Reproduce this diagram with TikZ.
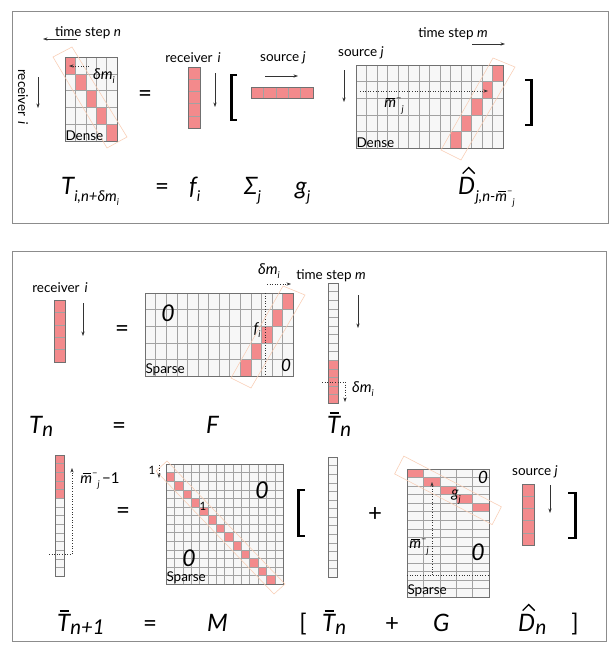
\documentclass[tikz,border=0pt]{standalone}
\usepackage{fontspec}
\setmainfont{Lato}
\usepackage{graphicx}
\usetikzlibrary{arrows.meta}
\definecolor{pinkc}{HTML}{F38A8C}
\definecolor{gridbg}{HTML}{F7F7F7}
\definecolor{gridln}{HTML}{A2A2A2}
\definecolor{matfr}{HTML}{707070}
\definecolor{bandc}{HTML}{F9CDB4}
\definecolor{framec}{HTML}{8C8C8C}
\definecolor{arrc}{HTML}{333333}
\newcommand\sub[1]{\raisebox{-0.3em}{\scalebox{0.62}{#1}}}
\newcommand\subb[1]{\raisebox{-0.15em}{\scalebox{0.85}{#1}}}
\newcommand\supr[1]{\raisebox{0.45em}{\scalebox{0.62}{#1}}}
\newcommand\ovbar[1]{\leavevmode\setbox0=\hbox{#1}\rlap{\kern0.18\wd0\raisebox{\dimexpr\ht0+0.09em\relax}{\rule{0.72\wd0}{0.06em}}}\box0}
\newcommand\pk[2]{\fill[pinkc] ({#1},{#2}) rectangle ++(1,1);}
\newcommand\gmat[7]{%
 \begin{scope}[shift={(#1,#2)},x=#3pt,y=-#4pt]
  \fill[gridbg] (0,0) rectangle (#5,#6);
  #7
  \pgfmathtruncatemacro\nca{#5-1}
  \pgfmathtruncatemacro\nra{#6-1}
  \ifnum\nca>0 \foreach \i in {1,...,\nca} {\draw[gl] (\i,0) -- (\i,#6);}\fi
  \ifnum\nra>0 \foreach \i in {1,...,\nra} {\draw[gl] (0,\i) -- (#5,\i);}\fi
  \draw[mf] (0,0) rectangle (#5,#6);
 \end{scope}}
\tikzset{
  lbl/.style={font=\fontsize{13.5}{15}\selectfont, inner sep=0pt},
  mlbl/.style={font=\fontsize{15}{17}\selectfont\itshape, inner sep=0pt},
  fml/.style={font=\fontsize{24}{28}\selectfont\itshape, inner sep=0pt, anchor=base west},
  fmlu/.style={font=\fontsize{24}{28}\selectfont, inner sep=0pt, anchor=base},
  bigzero/.style={font=\fontsize{23}{24}\selectfont\itshape, inner sep=0pt},
  smallzero/.style={font=\fontsize{17}{18}\selectfont\itshape, inner sep=0pt},
  mtag/.style={font=\fontsize{13.5}{15}\selectfont, inner sep=0.8pt, anchor=south west},
  arr/.style={arrc, line width=0.6pt, -{Stealth[length=4.5pt,width=3.2pt]}},
  darr/.style={arr, dotted},
  dln/.style={arrc, line width=0.6pt, dotted},
  band/.style={bandc, line width=0.55pt},
  brk/.style={line width=2.6pt},
  panel/.style={framec, line width=0.9pt},
  gl/.style={gridln, line width=0.35pt},
  mf/.style={matfr, line width=0.7pt},
  hatln/.style={line width=1.3pt, line join=miter},
}
\begin{document}
\begin{tikzpicture}[x=1pt,y=-1pt]
\useasboundingbox (0,0) rectangle (612,654);
\fill[white] (0,0) rectangle (612,654);
% panels
\draw[panel] (12,11) rectangle (608,223);
\draw[panel] (12,251) rectangle (606,641);

%================ TOP PANEL =================
\node[lbl] (tsn) at (88,33) {time step \textit{n}};
\draw[arr] (77,39) -- (43,39);
\node[lbl, rotate=-90] (rcv1) at (23,97) {receiver\hspace{5pt}\textit{i}};
\draw[arr] (38,77) -- (38,108);
% dense 1
\gmat{65}{57}{10.4}{16.8}{5}{5}{\foreach \k in {0,...,4} {\pk{\k}{\k}}}
\draw[band] (53,57) -- (72,47) -- (127,137) -- (107,148) -- cycle;
\draw[darr] (89,66) -- (69,66);
\node[mlbl] (dm1) at (104,76) {δm\sub{i}};
\node[mtag] (dense1) at (64.5,141.5) {Dense};
\node[fmlu] (eq1) at (145,101) {=};
% receiver vector
\node[lbl] (rcv2) at (193,58) {receiver\hspace{5pt}\textit{i}};
\gmat{188}{67}{12}{12.2}{1}{5}{\foreach \k in {0,...,4} {\pk{0}{\k}}}
\draw[arr] (215,73) -- (215,107);
\draw[brk] (237,75) -- (231.5,75) -- (231.5,120) -- (237,120);
% source vector
\node[lbl] (src1) at (283,58) {source \textit{j}};
\draw[arr] (265,76) -- (298,76);
\gmat{251}{87}{12.4}{11}{5}{1}{\foreach \k in {0,...,4} {\pk{\k}{0}}}
% dense 2
\node[lbl] (src2) at (361,53) {source \textit{j}};
\draw[arr] (344,70) -- (344,102);
\node[lbl] (tsm1) at (453,34) {time step \textit{m}};
\draw[arr] (472,44) -- (505,44);
\gmat{356}{65}{10.5}{16.6}{14}{5}{\pk{13}{0}\pk{12}{1}\pk{11}{2}\pk{10}{3}\pk{9}{4}}
\draw[band] (493,58) -- (515,67) -- (461,160) -- (441,150) -- cycle;
\draw[darr] (360,91) -- (488,91);
\node[mlbl] (mb1) at (394,106) {\ovbar{m}\supr{−}\sub{j}};
\node[mtag] (dense2) at (355.5,148.5) {Dense};
\draw[brk] (525,80) -- (531.5,80) -- (531.5,125) -- (525,125);
% top formula
\node[fml] (T1) at (61,194) {T\sub{i,n+δm\sub{i}}};
\node[fmlu] (eq2) at (162,194) {=};
\node[fml] (f1) at (189,194) {f\sub{i}};
\node[fml] (sig) at (244,194) {Σ\sub{j}};
\node[fml] (g1) at (295,194) {g\sub{j}};
\node[fml] (D1) at (458,194) {D};
\node[fml] (D1s) at (D1.base east) {\sub{j,n-\ovbar{m}\supr{−}\sub{j}}};
\draw[hatln] ([xshift=-4pt,yshift=3pt]D1.north) -- ([xshift=2pt,yshift=9pt]D1.north) -- ([xshift=8pt,yshift=3pt]D1.north);

%================ BOTTOM PANEL, ROW 1 =================
\node[lbl] (rcv3) at (60,288) {receiver\hspace{5pt}\textit{i}};
\gmat{54}{300}{11}{12.4}{1}{5}{\foreach \k in {0,...,4} {\pk{0}{\k}}}
\draw[arr] (83,303) -- (83,336);
\node[fmlu] (eq3) at (122,336) {=};
% F matrix
\gmat{145}{293}{10.57}{16.6}{14}{5}{\pk{13}{0}\pk{12}{1}\pk{11}{2}\pk{10}{3}\pk{9}{4}}
\draw[dln] (265,293) -- (265,376);
\draw[band] (283,286) -- (305,295) -- (251,388) -- (231,378) -- cycle;
\node[bigzero] (z1) at (168,313) {0};
\node[smallzero] (z2) at (286,365) {0};
\node[mlbl] (fi) at (257,330) {f\sub{i}};
\node[mtag] (sparse1) at (144.5,376.5) {Sparse};
\node[mlbl] (dm2) at (269,271) {δm\sub{i}};
\draw[darr] (267,284) -- (291,284);
\node[lbl] (tsm2) at (331,276) {time step \textit{m}};
% Tbar_n vector
\gmat{328}{283}{10}{8.57}{1}{14}{\foreach \k in {9,...,13} {\pk{0}{\k}}}
\draw[arr] (358,295) -- (358,328);
\draw[dln] (322,382) -- (345,382);
\draw[darr] (345,382) -- (345,402);
\node[mlbl] (dm3) at (363,389) {δm\sub{i}};
% formula row 1
\node[fml] (T2) at (29,433) {T\subb{n}};
\node[fmlu] (eq4) at (119,433) {=};
\node[fml] (F) at (206,433) {F};
\node[fml] (Tb1) at (327,433) {\ovbar{T}\subb{n}};

%================ BOTTOM PANEL, ROW 2 =================
\gmat{55}{455}{9}{8.64}{1}{14}{\foreach \k in {0,...,4} {\pk{0}{\k}}}
\draw[dln] (49,554) -- (72,554);
\draw[darr] (72,554) -- (72,468);
\node[mlbl] (mb2) at (100,481) {\ovbar{m}\supr{−}\sub{j}\,\upshape −1};
\node[fmlu] (eq5) at (123,518) {=};
% M matrix
\gmat{166}{464}{8.36}{8.57}{14}{14}{\foreach \k in {0,...,12} {\pk{\k}{\k+1}}}
\draw[band] (156,471) -- (167,461) -- (285,584) -- (274,594) -- cycle;
\node[lbl, font=\fontsize{11.5}{12}\selectfont] (one1) at (152,470) {1};
\draw[darr] (159,465) -- (159,478);
\node[lbl, font=\fontsize{11.5}{12}\selectfont] (one2) at (203,506) {1};
\node[bigzero] (z3) at (262,490) {0};
\node[bigzero] (z4) at (189,558) {0};
\node[mtag] (sparse2) at (165.5,584.5) {Sparse};
\draw[brk] (305,490) -- (298.5,490) -- (298.5,536) -- (305,536);
% Tbar vector 2
\gmat{328}{457}{9}{8.57}{1}{14}{}
\node[fmlu] (plus1) at (375,521) {+};
% G matrix
\gmat{407}{469}{16.4}{8.53}{5}{15}{\foreach \k in {0,...,4} {\pk{\k}{\k}}}
\draw[band] (403.8,456.1) -- (501.4,506.8) -- (492.2,524.6) -- (394.6,473.9) -- cycle;
\draw[dln] (407,575) -- (489,575);
\draw[darr] (432,575) -- (432,482);
\node[smallzero] (z5) at (483,477) {0};
\node[bigzero] (z6) at (478,552) {0};
\node[mlbl] (gj) at (456,497) {g\sub{j}};
\node[mlbl] (mb3) at (419,547) {\ovbar{m}\supr{−}\sub{j}};
\node[mtag] (sparse3) at (406.5,597.5) {Sparse};
% source vector
\node[lbl] (src3) at (535,472) {source \textit{j}};
\gmat{522}{484}{12}{12.2}{1}{5}{\foreach \k in {0,...,4} {\pk{0}{\k}}}
\draw[arr] (550,485) -- (550,513);
\draw[brk] (568,493) -- (575.5,493) -- (575.5,538) -- (568,538);
% formula row 2
\node[fml] (Tb2) at (57,631) {\ovbar{T}\subb{n+1}};
\node[fmlu] (eq6) at (150,631) {=};
\node[fml] (M) at (207,631) {M};
\node[fmlu] (lb) at (303,631) {[};
\node[fml] (Tb3) at (322,631) {\ovbar{T}\subb{n}};
\node[fmlu] (plus2) at (392,631) {+};
\node[fml] (G) at (433,631) {G};
\node[fml] (D2) at (518,631) {D};
\node[fml] (D2s) at (D2.base east) {\subb{n}};
\draw[hatln] ([xshift=-4pt,yshift=3pt]D2.north) -- ([xshift=2pt,yshift=9pt]D2.north) -- ([xshift=8pt,yshift=3pt]D2.north);
\node[fmlu] (rb) at (575,631) {]};
\end{tikzpicture}
\end{document}
